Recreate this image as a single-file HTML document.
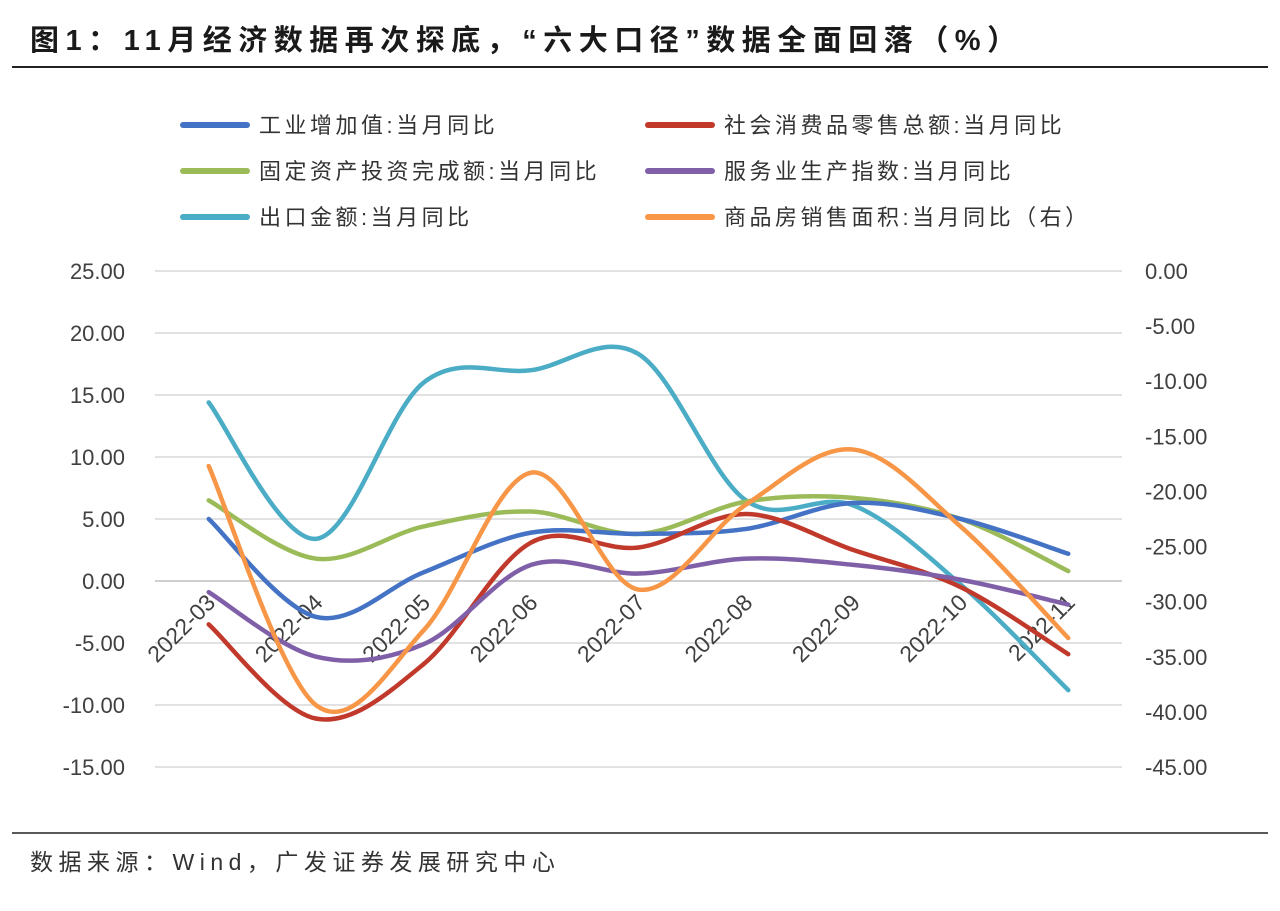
<!DOCTYPE html>
<html><head><meta charset="utf-8">
<style>
body{margin:0;background:#fff;}
svg text{font-family:"Liberation Sans","Noto Sans CJK SC",sans-serif;}
</style></head>
<body>
<svg width="1280" height="906" viewBox="0 0 1280 906">
<text x="30" y="50" font-size="29" font-weight="bold" fill="#1a1a1a" letter-spacing="6.5">图1：11月经济数据再次探底，“六大口径”数据全面回落（%）</text>
<line x1="12" y1="67" x2="1268" y2="67" stroke="#222" stroke-width="2"/>
<line x1="12" y1="833" x2="1268" y2="833" stroke="#222" stroke-width="1.5"/>
<text x="30" y="870" font-size="23" fill="#333" letter-spacing="5.5">数据来源：Wind，广发证券发展研究中心</text>
<g id="grid"></g>
<g id="series"></g>
<g id="legend"></g>
</svg>
<script>
const categories=["2022-03","2022-04","2022-05","2022-06","2022-07","2022-08","2022-09","2022-10","2022-11"];
const industrial=[5.0,-2.9,0.7,3.9,3.8,4.2,6.3,5.0,2.2];
const retail=[-3.5,-11.1,-6.7,3.1,2.7,5.4,2.5,-0.5,-5.9];
const fai=[6.5,1.8,4.4,5.6,3.8,6.4,6.7,5.0,0.8];
const services=[-0.9,-6.1,-5.1,1.3,0.6,1.8,1.3,0.1,-1.9];
const exports=[14.4,3.4,16.0,17.0,18.3,6.5,6.1,-0.3,-8.8];
const housing=[-17.7,-39.4,-32.6,-18.3,-28.9,-21.2,-16.2,-23.2,-33.3];
const leftTicks=[25,20,15,10,5,0,-5,-10,-15];
const rightTicks=[0,-5,-10,-15,-20,-25,-30,-35,-40,-45];
const legendLabels=["工业增加值:当月同比","社会消费品零售总额:当月同比","固定资产投资完成额:当月同比","服务业生产指数:当月同比","出口金额:当月同比","商品房销售面积:当月同比（右）"];

const NS="http://www.w3.org/2000/svg";
const X0=155,X1=1122,TOP=271,BOT=767;
const yL=v=>TOP+(25-v)/40*(BOT-TOP);
const yR=v=>TOP+(0-v)/45*(BOT-TOP);
const bw=(X1-X0)/categories.length;
const xC=i=>X0+bw*(i+0.5);
function mk(tag,attrs,parent){const e=document.createElementNS(NS,tag);for(const k in attrs)e.setAttribute(k,attrs[k]);parent.appendChild(e);return e;}
const grid=document.getElementById('grid'),ser=document.getElementById('series'),leg=document.getElementById('legend');
leftTicks.forEach(v=>{
  const l=mk('line',{x1:X0,x2:X1,y1:yL(v),y2:yL(v),stroke:v===0?'#bfbfbf':'#d9d9d9','stroke-width':1.5},grid);
  
  
  const t=mk('text',{x:125,y:yL(v)+8,'text-anchor':'end','font-size':22,fill:'#404040'},grid);
  t.textContent=v.toFixed(2);
  
  
});
rightTicks.forEach(v=>{
  const t=mk('text',{x:1145,y:yR(v)+8,'font-size':22,fill:'#404040'},grid);
  t.textContent=v.toFixed(2);
  
  
});
categories.forEach((c,i)=>{
  const x=xC(i)+8,y=604;
  const t=mk('text',{x:x,y:y,'text-anchor':'end','font-size':23,fill:'#404040',transform:`rotate(-45 ${x} ${y})`},grid);
  t.textContent=c;
  
  
});
function path(pts){
  let d=`M${pts[0][0]},${pts[0][1]}`;
  for(let i=0;i<pts.length-1;i++){
    const p0=pts[i-1]||pts[i],p1=pts[i],p2=pts[i+1],p3=pts[i+2]||p2;
    const t=1/3;
    const c1=[p1[0]+(p2[0]-p0[0])*t/2,p1[1]+(p2[1]-p0[1])*t/2];
    const c2=[p2[0]-(p3[0]-p1[0])*t/2,p2[1]-(p3[1]-p1[1])*t/2];
    d+=` C${c1[0]},${c1[1]} ${c2[0]},${c2[1]} ${p2[0]},${p2[1]}`;
  }
  return d;
}
const series=[
 [exports,yL,'#4bacc6','series-exports'],
 [fai,yL,'#9bbb59','series-fixed-asset-investment'],
 [industrial,yL,'#4472c4','series-industrial-value-added'],
 [retail,yL,'#c0392b','series-retail-sales'],
 [services,yL,'#7f5fa8','series-services-index'],
 [housing,yR,'#f79646','series-housing-sales-area']
];
series.forEach(([vals,f,col,name])=>{
  const p=mk('path',{d:path(vals.map((v,i)=>[xC(i),f(v)])),fill:'none',stroke:col,'stroke-width':4.5,'stroke-linecap':'round'},ser);
  
  
});
const legCols=['#4472c4','#c0392b','#9bbb59','#7f5fa8','#4bacc6','#f79646'];
legendLabels.forEach((lab,i)=>{
  const col=i%2,row=Math.floor(i/2);
  const x=col?648:183,y=125+row*46;
  const g=mk('g',{},leg);
  
  
  mk('line',{x1:x,x2:x+64,y1:y,y2:y,stroke:legCols[i],'stroke-width':6,'stroke-linecap':'round'},g);
  const t=mk('text',{x:x+76,y:y+8,'font-size':22,fill:'#333','letter-spacing':'3.5'},g);
  t.textContent=lab;
});
</script>
</body></html>
